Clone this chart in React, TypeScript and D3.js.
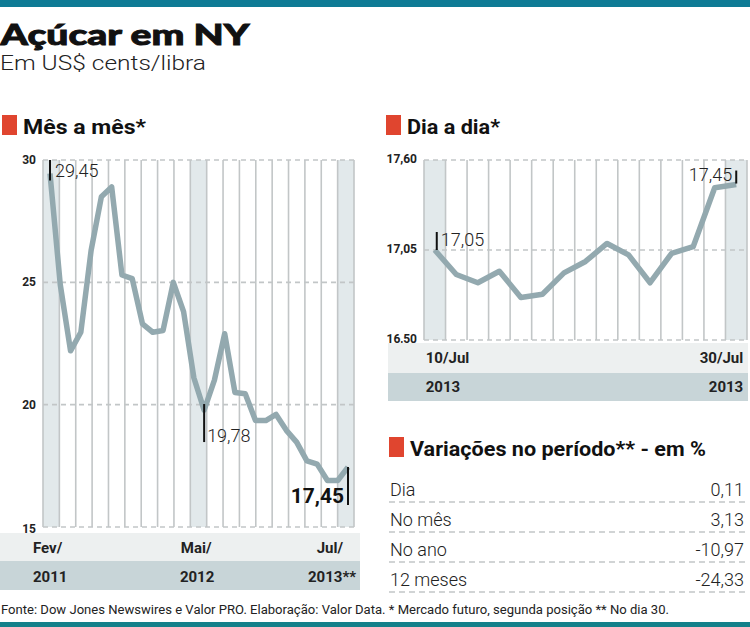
import React, { useEffect, useRef } from "react";
import * as d3 from "d3";

// cotação mensal, fev/2011 a jul/2013
const mesValores = [
  29.45, 24.9, 22.2, 22.96, 26.3, 28.5, 28.9, 25.3, 25.15, 23.3, 22.96, 23.03, 25.0, 23.8, 21.1,
  19.78, 21.0, 22.9, 20.5, 20.45, 19.35, 19.35, 19.6, 18.95, 18.47, 17.7, 17.57, 16.9, 16.9, 17.45,
];
const mesTickIdx = [0, 15, 29];
const mesTickLabels = ["Fev/", "Mai/", "Jul/"];
const mesAnoLabels = ["2011", "2012", "2013**"];
const mesYTicks = [30, 25, 20, 15];
const mesDestaques = [0, 15, 29];

// cotação diária, 10/jul a 30/jul de 2013
const diaValores = [
  17.05, 16.9, 16.85, 16.92, 16.76, 16.78, 16.91, 16.98, 17.09, 17.02, 16.85, 17.03, 17.07, 17.43, 17.45,
];
const diaTickLabels = ["10/Jul", "30/Jul"];
const diaAnoLabels = ["2013", "2013"];
const diaYTicks = [17.6, 17.05, 16.5];

const variacaoNomes = ["Dia", "No mês", "No ano", "12 meses"];
const variacaoValores = [0.11, 3.13, -10.97, -24.33];

// vírgula decimal e hífen no lugar do sinal de menos
const fmt = (v: number) => d3.format(".2f")(v).replace(".", ",").replace("\u2212", "-");

const FONT = "Roboto, 'Open Sans', sans-serif";
const VERMELHO = "#e0452f";
const LINHA = "#93a9af";
const GRADE = "#c2c6c7";
const COLUNA = "#e2e9eb";
const FAIXA1 = "#edf0f0";
const FAIXA2 = "#c8d5d8";

const App = () => {
  const svgRef = useRef<SVGSVGElement>(null);

  useEffect(() => {
    const svg = d3.select(svgRef.current);
    svg.selectAll("*").remove();

    // barras de topo e rodapé
    svg.append("rect").attr("x", 0).attr("y", 0).attr("width", 750).attr("height", 7).attr("fill", "#0e7b95");
    svg.append("rect").attr("x", 0).attr("y", 622).attr("width", 750).attr("height", 5).attr("fill", "#13808a");

    svg.append("text").text("Açúcar em NY")
      .attr("x", 0.5).attr("y", 45)
      .attr("font-family", "Lato, Roboto, sans-serif").attr("font-weight", 900)
      .attr("font-size", 28).attr("textLength", 249).attr("lengthAdjust", "spacingAndGlyphs")
      .attr("fill", "#111").attr("stroke", "#111").attr("stroke-width", 0.9);
    svg.append("text").text("Em US$ cents/libra")
      .attr("x", 0).attr("y", 70)
      .attr("font-family", FONT).attr("font-weight", 300)
      .attr("font-size", 21).attr("textLength", 206).attr("lengthAdjust", "spacingAndGlyphs")
      .attr("fill", "#222");

    const cabecalho = (x: number, y: number, txt: string, w: number) => {
      svg.append("rect").attr("x", x).attr("y", y - 19).attr("width", 15).attr("height", 20).attr("fill", VERMELHO);
      svg.append("text").text(txt)
        .attr("x", x + 21).attr("y", y)
        .attr("font-family", FONT).attr("font-weight", 700).attr("font-size", 21)
        .attr("textLength", w).attr("lengthAdjust", "spacingAndGlyphs")
        .attr("fill", "#111");
    };
    cabecalho(2, 134, "Mês a mês*", 123);
    cabecalho(386, 134, "Dia a dia*", 93);
    cabecalho(389, 456, "Variações no período** - em %", 296);

    // ---------- Mês a mês ----------
    const m = { left: 43, right: 354, top: 160, bottom: 527 };
    const xm = d3.scaleLinear().domain([0, mesValores.length - 1]).range([50, 348]);
    const ym = d3.scaleLinear().domain([15, 30]).range([m.bottom, m.top]);
    const nColM = 19;
    const colM = d3.scaleLinear().domain([0, nColM]).range([m.left, m.right]);

    // colunas sombreadas onde caem os meses marcados
    const colDe = (i: number) => Math.floor((xm(i) - m.left) / ((m.right - m.left) / nColM));
    mesDestaques.forEach((i) => {
      const c = colDe(i);
      svg.append("rect").attr("x", colM(c)).attr("y", m.top)
        .attr("width", colM(c + 1) - colM(c)).attr("height", m.bottom - m.top).attr("fill", COLUNA);
    });
    svg.append("g").selectAll("line").data(d3.range(nColM + 1)).join("line")
      .attr("x1", (d) => colM(d)).attr("x2", (d) => colM(d))
      .attr("y1", m.top).attr("y2", m.bottom)
      .attr("stroke", GRADE).attr("stroke-width", 1.6);
    svg.append("g").selectAll("line").data(mesYTicks).join("line")
      .attr("x1", m.left).attr("x2", m.right)
      .attr("y1", (d) => ym(d)).attr("y2", (d) => ym(d))
      .attr("stroke", GRADE).attr("stroke-width", 1.6).attr("stroke-dasharray", "5,4");
    svg.append("g").selectAll("text").data(mesYTicks).join("text")
      .text((d) => d)
      .attr("x", 36).attr("y", (d) => ym(d) + (d === 15 ? 6 : 4)).attr("text-anchor", "end")
      .attr("font-family", FONT).attr("font-weight", 700).attr("font-size", 12).attr("fill", "#222");

    svg.append("path").datum(mesValores)
      .attr("d", d3.line<number>().x((_, i) => xm(i)).y((d) => ym(d)))
      .attr("fill", "none").attr("stroke", LINHA).attr("stroke-width", 5.5)
      .attr("stroke-linejoin", "round");

    // marcadores de valor
    const n = mesValores.length - 1;
    const tick = (x: number, y1: number, y2: number) =>
      svg.append("line").attr("x1", x).attr("x2", x).attr("y1", y1).attr("y2", y2)
        .attr("stroke", "#111").attr("stroke-width", 2);
    tick(xm(0), ym(30), ym(mesValores[0]) + 7);
    svg.append("text").text(fmt(mesValores[0])).attr("x", xm(0) + 5).attr("y", ym(30) + 17)
      .attr("font-family", FONT).attr("font-weight", 300).attr("font-size", 18).attr("fill", "#222");
    tick(xm(15), ym(mesValores[15]) - 6, ym(mesValores[15]) + 32);
    svg.append("text").text(fmt(mesValores[15])).attr("x", xm(15) + 3).attr("y", ym(mesValores[15]) + 32)
      .attr("font-family", FONT).attr("font-weight", 300).attr("font-size", 18).attr("fill", "#222");
    tick(xm(n), ym(mesValores[n]), ym(mesValores[n]) + 38);
    svg.append("text").text(fmt(mesValores[n])).attr("x", xm(n) - 4).attr("y", ym(mesValores[n]) + 36)
      .attr("text-anchor", "end")
      .attr("font-family", FONT).attr("font-weight", 700).attr("font-size", 21).attr("fill", "#111");

    // faixas de rótulos
    svg.append("rect").attr("x", 0).attr("y", 533).attr("width", 360).attr("height", 28).attr("fill", FAIXA1);
    svg.append("rect").attr("x", 0).attr("y", 561).attr("width", 360).attr("height", 29).attr("fill", FAIXA2);
    const ancora = ["start", "middle", "end"];
    const desloc = [-17, -8, -5];
    const deslocAno = [-17, -7, 8];
    mesTickIdx.forEach((idx, k) => {
      svg.append("text").text(mesTickLabels[k])
        .attr("x", xm(idx) + desloc[k]).attr("y", 553).attr("text-anchor", ancora[k])
        .attr("font-family", FONT).attr("font-weight", 700).attr("font-size", 15).attr("fill", "#222");
      svg.append("text").text(mesAnoLabels[k])
        .attr("x", xm(idx) + deslocAno[k]).attr("y", 582).attr("text-anchor", ancora[k])
        .attr("font-family", FONT).attr("font-weight", 700).attr("font-size", 15).attr("fill", "#222");
    });

    // ---------- Dia a dia ----------
    const d = { left: 424, right: 747, top: 160, bottom: 340 };
    const xd = d3.scalePoint<number>().domain(d3.range(diaValores.length)).range([d.left, d.right]).padding(0.5);
    const yd = d3.scaleLinear().domain([16.5, 17.6]).range([d.bottom, d.top]);
    const nColD = diaValores.length;
    const colD = d3.scaleLinear().domain([0, nColD]).range([d.left, d.right]);

    [0, nColD - 1].forEach((c) => {
      svg.append("rect").attr("x", colD(c)).attr("y", d.top)
        .attr("width", colD(c + 1) - colD(c)).attr("height", d.bottom - d.top).attr("fill", COLUNA);
    });
    svg.append("g").selectAll("line").data(d3.range(nColD + 1)).join("line")
      .attr("x1", (v) => colD(v)).attr("x2", (v) => colD(v))
      .attr("y1", d.top).attr("y2", d.bottom)
      .attr("stroke", GRADE).attr("stroke-width", 1.6);
    svg.append("g").selectAll("line").data(diaYTicks).join("line")
      .attr("x1", d.left).attr("x2", d.right)
      .attr("y1", (v) => yd(v)).attr("y2", (v) => yd(v))
      .attr("stroke", GRADE).attr("stroke-width", 1.6).attr("stroke-dasharray", "5,4");
    svg.append("g").selectAll("text").data(diaYTicks).join("text")
      .text((v) => fmt(v))
      .attr("x", 417).attr("y", (v) => yd(v) + 3).attr("text-anchor", "end")
      .attr("font-family", FONT).attr("font-weight", 700).attr("font-size", 12).attr("fill", "#222");

    svg.append("path").datum(diaValores)
      .attr("d", d3.line<number>().x((_, i) => xd(i) as number).y((v) => yd(v)))
      .attr("fill", "none").attr("stroke", LINHA).attr("stroke-width", 5.5)
      .attr("stroke-linejoin", "round");

    const last = diaValores.length - 1;
    tick((xd(0) as number) + 2, yd(diaValores[0]) - 18, yd(diaValores[0]));
    svg.append("text").text(fmt(diaValores[0])).attr("x", (xd(0) as number) + 6).attr("y", yd(diaValores[0]) - 4)
      .attr("font-family", FONT).attr("font-weight", 300).attr("font-size", 18).attr("fill", "#222");
    tick(xd(last) as number, yd(diaValores[last]) - 14, yd(diaValores[last]) - 1);
    svg.append("text").text(fmt(diaValores[last])).attr("x", (xd(last) as number) - 4).attr("y", yd(diaValores[last]) - 4)
      .attr("text-anchor", "end")
      .attr("font-family", FONT).attr("font-weight", 300).attr("font-size", 18).attr("fill", "#222");

    svg.append("rect").attr("x", 388).attr("y", 343).attr("width", 360).attr("height", 30).attr("fill", FAIXA1);
    svg.append("rect").attr("x", 388).attr("y", 373).attr("width", 360).attr("height", 28).attr("fill", FAIXA2);
    [0, last].forEach((idx, k) => {
      const x = k === 0 ? (xd(idx) as number) - 9 : (xd(idx) as number) + 7;
      const anc = k === 0 ? "start" : "end";
      svg.append("text").text(diaTickLabels[k])
        .attr("x", x).attr("y", 363).attr("text-anchor", anc)
        .attr("font-family", FONT).attr("font-weight", 700).attr("font-size", 15).attr("fill", "#222");
      svg.append("text").text(diaAnoLabels[k])
        .attr("x", x).attr("y", 392).attr("text-anchor", anc)
        .attr("font-family", FONT).attr("font-weight", 700).attr("font-size", 15).attr("fill", "#222");
    });

    // ---------- Variações ----------
    const rowY = d3.scaleLinear().domain([0, 1]).range([496, 526]);
    const tabela = svg.append("g");
    variacaoNomes.forEach((nome, i) => {
      tabela.append("text").text(nome)
        .attr("x", 390).attr("y", rowY(i))
        .attr("font-family", FONT).attr("font-weight", 300).attr("font-size", 18).attr("fill", "#222");
      tabela.append("text").text(fmt(variacaoValores[i]))
        .attr("x", 744).attr("y", rowY(i)).attr("text-anchor", "end")
        .attr("font-family", FONT).attr("font-weight", 300).attr("font-size", 18).attr("fill", "#222");
      tabela.append("line")
        .attr("x1", 389).attr("x2", 748).attr("y1", rowY(i) + 6).attr("y2", rowY(i) + 6)
        .attr("stroke", GRADE).attr("stroke-width", 1.3).attr("stroke-dasharray", "6,4");
    });

    svg.append("text")
      .text("Fonte: Dow Jones Newswires e Valor PRO. Elaboração: Valor Data. * Mercado futuro, segunda posição ** No dia 30.")
      .attr("x", 1).attr("y", 614)
      .attr("font-family", FONT).attr("font-size", 12.5)
      .attr("textLength", 668).attr("lengthAdjust", "spacingAndGlyphs")
      .attr("fill", "#222");

    return () => {
      d3.select(svgRef.current).selectAll("*").remove();
    };
  }, []);

  return (
    <svg
      ref={svgRef}
      width={750}
      height={627}
      style={{ position: "absolute", left: 0, top: 0, background: "#fff" }}
    />
  );
};

export default App;
